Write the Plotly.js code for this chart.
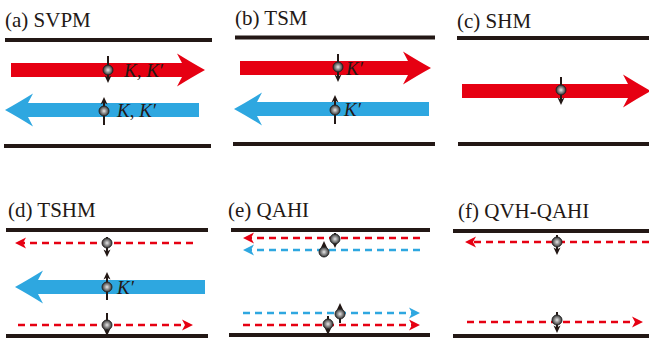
<!DOCTYPE html>
<html><head><meta charset="utf-8">
<script src="https://cdn.plot.ly/plotly-3.0.1.min.js"></script>
<style>html,body{margin:0;padding:0;background:#fff}#plot{width:649px;height:339px}</style>
</head><body><div id="plot"></div>
<script>
// ---------- content (what the schematic shows) ----------
const panelTitles = ['(a) SVPM', '(b) TSM', '(c) SHM', '(d) TSHM', '(e) QAHI', '(f) QVH-QAHI'];
const channelPanel = [0, 0, 1, 1, 2, 3, 3, 3, 4, 4, 4, 4, 5, 5];
const channelKind  = ['thick','thick','thick','thick','thick','dashed','thick','dashed','dashed','dashed','dashed','dashed','dashed','dashed'];
const channelColor = ['red','blue','red','blue','red','red','blue','red','red','blue','blue','red','red','red'];
const channelDir   = [1, -1, 1, -1, 1, -1, -1, 1, -1, -1, 1, 1, -1, 1];
const spinDir      = ['down','up','down','up','down','down','up','down','down','up','up','down','down','down'];
const valleyLabel  = ['K, K′','K, K′','K′','K′','','','K′','','','','','','',''];

// ---------- geometry (pixel layout of the drawing) ----------
const G = {
  frames: [ // [x0,x1,yTop, x0b,x1b,yBottom]
    [5,212,40, 4,211,146],[235,435,37.5, 233,435,144],[457,649,38, 458,649,144],
    [6,208,230, 6,208,336],[231,430,230, 229,430,335],[453,649,231, 453,649,336]
  ],
  titlePos: [[3,20],[233,18],[455,21],[6,210],[226,210],[456,211]],
  chY:    [70,110,68,109,91,243,287,325,238,250,313,325,242,322],
  chTail: [11,199,240,429,462,193,205,18,420,420,243,243,649,467],
  chTip:  [205,5,431,234,651,15,15,193,243,243,420,420,465,643],
  spinX:  [108,104,338,335,561,107,107,107,335,324,340,328,557,557],
  ballY:  [70,111,67,110,90,243,287,325,239,252,314,324,242,320],
  spinTop:[56,97,54,95,77,237,272,313,233,241,303,316,235,312],
  spinBot:[83,125,82,124,105,257,300,336,248,257,323,335,255,333],
  labelX: [121,114,343,341,0,0,114,0,0,0,0,0,0,0]
};
const COL = {red:'#E60012', blue:'#2EA7E0', black:'#231815'};

const shapes = [];
const annotations = [];

// frames
G.frames.forEach(f => {
  shapes.push({type:'line', layer:'below', x0:f[0], x1:f[1], y0:f[2], y1:f[2], line:{color:COL.black, width:4}});
  shapes.push({type:'line', layer:'below', x0:f[3], x1:f[4], y0:f[5], y1:f[5], line:{color:COL.black, width:4}});
});
// titles
panelTitles.forEach((t,i) => {
  annotations.push({text:t, x:G.titlePos[i][0], y:G.titlePos[i][1], xref:'x', yref:'y', xanchor:'left', yanchor:'middle',
    showarrow:false, font:{family:'Liberation Serif, Times New Roman, serif', size:21, color:'#231815'}});
});

function thickArrow(tail, tip, y, dir, color){
  const hb = 7, hh = 16.5, L = 28;
  const xb = tip - dir*L, xn = xb + dir*5;
  const cx = xb + dir*L*0.55;
  const p = `M${tail},${y-hb} L${xn},${y-hb} L${xb},${y-hh} Q${cx},${y-hh*0.42} ${tip},${y} Q${cx},${y+hh*0.42} ${xb},${y+hh} L${xn},${y+hb} L${tail},${y+hb} Z`;
  shapes.push({type:'path', layer:'below', path:p, fillcolor:color, line:{width:0}});
}
function dashedArrow(tail, tip, y, dir, color){
  shapes.push({type:'line', layer:'below', x0:tail, x1:tip - dir*7, y0:y, y1:y, line:{color:color, width:2.3, dash:'7px,5px'}});
  const p = `M${tip},${y} L${tip-dir*11},${y-5.5} L${tip-dir*8},${y} L${tip-dir*11},${y+5.5} Z`;
  shapes.push({type:'path', layer:'below', path:p, fillcolor:color, line:{width:0}});
}
function spin(x, top, bot, dir){
  const tipY = dir==='down' ? bot : top;
  const s = dir==='down' ? 1 : -1;
  const y0 = dir==='down' ? top : top + 5;
  const y1 = dir==='down' ? bot - 5 : bot;
  shapes.push({type:'line', layer:'below', x0:x, x1:x, y0:y0, y1:y1, line:{color:COL.black, width:2}});
  const p = `M${x},${tipY} L${x-3.5},${tipY - s*7.5} L${x},${tipY - s*5.5} L${x+3.5},${tipY - s*7.5} Z`;
  shapes.push({type:'path', layer:'below', path:p, fillcolor:COL.black, line:{width:0}});
}

channelPanel.forEach((pIdx, i) => {
  const color = COL[channelColor[i]];
  if (channelKind[i]==='thick') thickArrow(G.chTail[i], G.chTip[i], G.chY[i], channelDir[i], color);
  else dashedArrow(G.chTail[i], G.chTip[i], G.chY[i], channelDir[i], color);
  spin(G.spinX[i], G.spinTop[i], G.spinBot[i], spinDir[i]);
  if (valleyLabel[i]) {
    const txt = valleyLabel[i].split(', ').map(s => '<i>'+s+'</i>').join(', ');
    annotations.push({text:txt, x:G.labelX[i], y:G.chY[i], xref:'x', yref:'y', xanchor:'left', yanchor:'middle',
      showarrow:false, font:{family:'Liberation Serif, Times New Roman, serif', size:19, color:'#231815'}});
  }
});

const balls = {
  type:'scatter', mode:'markers', x:G.spinX, y:G.ballY, hoverinfo:'skip',
  marker:{size:10, color:'#333333', gradient:{type:'radial', color:'#e8e8e8'}, line:{color:'#222222', width:0.9}}
};

const layout = {
  width:649, height:339, margin:{l:0,r:0,t:0,b:0}, paper_bgcolor:'#fff', plot_bgcolor:'#fff',
  showlegend:false,
  xaxis:{range:[0,649], visible:false, fixedrange:true},
  yaxis:{range:[339,0], visible:false, fixedrange:true},
  shapes:shapes, annotations:annotations
};
Plotly.newPlot('plot', [balls], layout, {staticPlot:true, displayModeBar:false});
</script></body></html>
